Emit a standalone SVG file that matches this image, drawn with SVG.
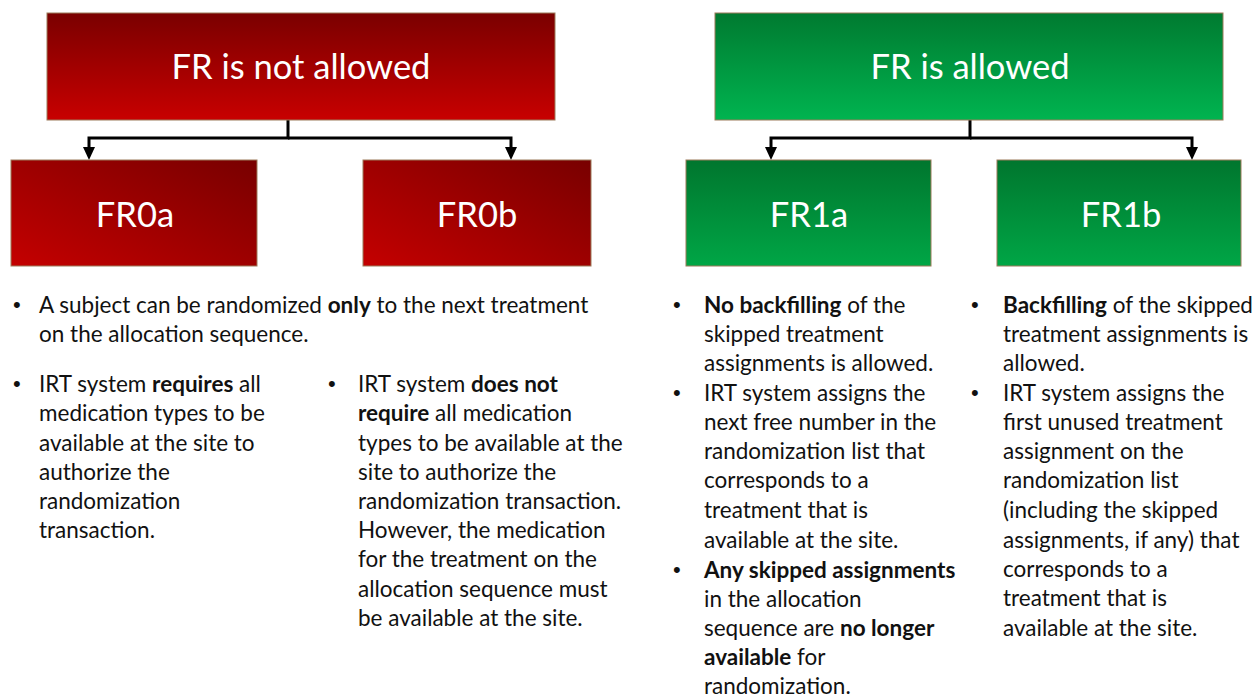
<svg xmlns="http://www.w3.org/2000/svg" width="1255" height="697" viewBox="0 0 1255 697">
<defs>
<linearGradient id="redV" x1="0" y1="0" x2="0" y2="1">
<stop offset="0" stop-color="#7a0000"/>
<stop offset="1" stop-color="#c80000"/>
</linearGradient>
<linearGradient id="redD" x1="0" y1="1" x2="1" y2="0">
<stop offset="0" stop-color="#c40000"/>
<stop offset="1" stop-color="#780000"/>
</linearGradient>
<linearGradient id="greenV" x1="0" y1="0" x2="0" y2="1">
<stop offset="0" stop-color="#007a30"/>
<stop offset="1" stop-color="#00b450"/>
</linearGradient>
<linearGradient id="greenS" x1="0" y1="0" x2="0" y2="1">
<stop offset="0" stop-color="#00762e"/>
<stop offset="1" stop-color="#00a646"/>
</linearGradient>
</defs>
<style>
.box{stroke:#9c7a5a;stroke-width:1}
.title{font-family:Lato,"Liberation Sans",sans-serif;font-size:34.5px;fill:#fff;text-anchor:middle}
.t{font-family:Lato,"Liberation Sans",sans-serif;font-size:22.5px;fill:#111}
.d{font-family:"Liberation Sans",sans-serif;font-size:22px;fill:#111}
.b{font-weight:bold}
.conn{fill:none;stroke:#000;stroke-width:3}
.head{fill:#000}
</style>
<rect width="1255" height="697" fill="#fff"/>

<g id="connectors">
<path class="conn" d="M288,120 V138 H89 V150"/>
<path class="conn" d="M288,138 H511 V150"/>
<path class="conn" d="M970,120 V138 H771 V150"/>
<path class="conn" d="M970,138 H1192 V150"/>
<polygon class="head" points="83,147 95,147 89,160"/>
<polygon class="head" points="505,147 517,147 511,160"/>
<polygon class="head" points="765,147 777,147 771,160"/>
<polygon class="head" points="1186,147 1198,147 1192,160"/>
</g>

<g id="fr-not-allowed">
<rect class="box" x="47" y="13" width="508" height="107" fill="url(#redV)"/>
<text class="title" x="301" y="79">FR is not allowed</text>
</g>
<g id="fr0a">
<rect class="box" x="11" y="160" width="246" height="106" fill="url(#redD)"/>
<text class="title" x="135" y="227">FR0a</text>
</g>
<g id="fr0b">
<rect class="box" x="363" y="160" width="228" height="106" fill="url(#redD)"/>
<text class="title" x="477" y="227">FR0b</text>
</g>
<g id="fr-allowed">
<rect class="box" x="715" y="13" width="508" height="107" fill="url(#greenV)"/>
<text class="title" x="970" y="79">FR is allowed</text>
</g>
<g id="fr1a">
<rect class="box" x="686" y="160" width="245" height="106" fill="url(#greenS)"/>
<text class="title" x="809" y="227">FR1a</text>
</g>
<g id="fr1b">
<rect class="box" x="997" y="160" width="244" height="106" fill="url(#greenS)"/>
<text class="title" x="1121" y="227">FR1b</text>
</g>

<g id="text-fr0">
<text class="d" x="13" y="312">•</text>
<text class="t" x="39" y="313">A subject can be randomized <tspan class="b">only</tspan> to the next treatment</text>
<text class="t" x="39" y="342">on the allocation sequence.</text>
</g>
<g id="text-fr0a">
<text class="d" x="13" y="391">•</text>
<text class="t" x="39" y="392">IRT system <tspan class="b">requires</tspan> all</text>
<text class="t" x="39" y="421">medication types to be</text>
<text class="t" x="39" y="451">available at the site to</text>
<text class="t" x="39" y="480">authorize the</text>
<text class="t" x="39" y="509">randomization</text>
<text class="t" x="39" y="538">transaction.</text>
</g>
<g id="text-fr0b">
<text class="d" x="328" y="391">•</text>
<text class="t" x="358" y="392">IRT system <tspan class="b">does not</tspan></text>
<text class="t" x="358" y="421"><tspan class="b">require</tspan> all medication</text>
<text class="t" x="358" y="451">types to be available at the</text>
<text class="t" x="358" y="480">site to authorize the</text>
<text class="t" x="358" y="509">randomization transaction.</text>
<text class="t" x="358" y="538">However, the medication</text>
<text class="t" x="358" y="567">for the treatment on the</text>
<text class="t" x="358" y="597">allocation sequence must</text>
<text class="t" x="358" y="626">be available at the site.</text>
</g>
<g id="text-fr1a">
<text class="d" x="673" y="312">•</text>
<text class="t" x="704" y="313"><tspan class="b">No backfilling</tspan> of the</text>
<text class="t" x="704" y="342">skipped treatment</text>
<text class="t" x="704" y="371">assignments is allowed.</text>
<text class="d" x="673" y="400">•</text>
<text class="t" x="704" y="401">IRT system assigns the</text>
<text class="t" x="704" y="430">next free number in the</text>
<text class="t" x="704" y="459">randomization list that</text>
<text class="t" x="704" y="488">corresponds to a</text>
<text class="t" x="704" y="518">treatment that is</text>
<text class="t" x="704" y="548">available at the site.</text>
<text class="d" x="673" y="577">•</text>
<text class="t b" x="704" y="578">Any skipped assignments</text>
<text class="t" x="704" y="607">in the allocation</text>
<text class="t" x="704" y="636">sequence are <tspan class="b">no longer</tspan></text>
<text class="t" x="704" y="665"><tspan class="b">available</tspan> for</text>
<text class="t" x="704" y="694">randomization.</text>
</g>
<g id="text-fr1b">
<text class="d" x="971" y="312">•</text>
<text class="t" x="1003" y="313"><tspan class="b">Backfilling</tspan> of the skipped</text>
<text class="t" x="1003" y="342">treatment assignments is</text>
<text class="t" x="1003" y="371">allowed.</text>
<text class="d" x="971" y="400">•</text>
<text class="t" x="1003" y="401">IRT system assigns the</text>
<text class="t" x="1003" y="430">first unused treatment</text>
<text class="t" x="1003" y="459">assignment on the</text>
<text class="t" x="1003" y="488">randomization list</text>
<text class="t" x="1003" y="518">(including the skipped</text>
<text class="t" x="1003" y="548">assignments, if any) that</text>
<text class="t" x="1003" y="577">corresponds to a</text>
<text class="t" x="1003" y="606">treatment that is</text>
<text class="t" x="1003" y="636">available at the site.</text>
</g>
</svg>
